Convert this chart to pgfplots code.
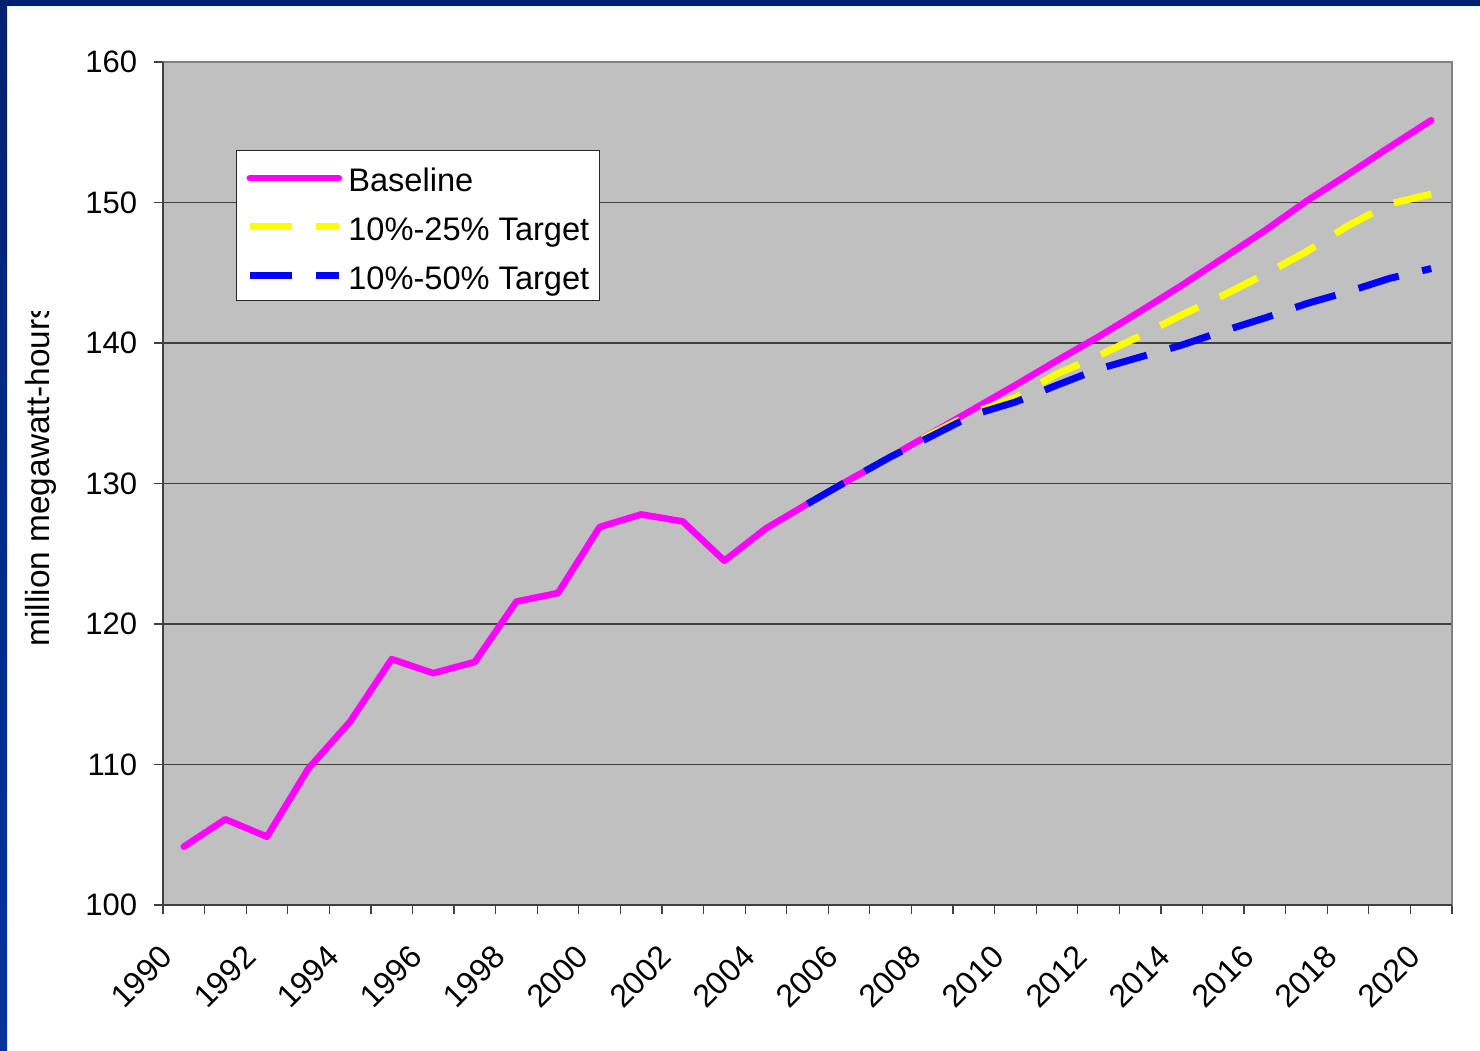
\documentclass[border=0pt]{standalone}
\usepackage{fontspec}
\setmainfont{Liberation Sans}
\usepackage{pgfplots}
\pgfplotsset{compat=1.18}
\definecolor{plotgray}{RGB}{192,192,192}
\definecolor{framegray}{RGB}{128,128,128}
\definecolor{axisdark}{RGB}{64,64,64}
\definecolor{navytop}{RGB}{0,34,110}
\definecolor{navybot}{RGB}{0,52,160}
\definecolor{mag}{RGB}{255,0,255}
\definecolor{yel}{RGB}{255,255,0}
\definecolor{blu}{RGB}{0,0,255}

\pgfplotstableread{
year val
1990 104.15
1991 106.1
1992 104.86
1993 109.73
1994 113.05
1995 117.5
1996 116.5
1997 117.3
1998 121.6
1999 122.2
2000 126.9
2001 127.8
2002 127.3
2003 124.5
2004 126.8
2005 128.55
2006 130.25
2007 131.9
2008 133.6
2009 135.3
2010 137.0
2011 138.75
2012 140.45
2013 142.25
2014 144.1
2015 146.05
2016 148.0
2017 150.1
2018 152.0
2019 153.95
2020 155.85
}\baseline

\pgfplotstableread{
year val
2005 128.55
2006 130.25
2007 131.9
2008 133.55
2009 135.05
2010 136.1
2011 137.8
2012 139.1
2013 140.5
2014 142.0
2015 143.4
2016 144.9
2017 146.5
2018 148.35
2019 149.9
2020 150.6
}\targetA

\pgfplotstableread{
year val
2005 128.55
2006 130.25
2007 131.9
2008 133.4
2009 134.9
2010 135.8
2011 137.0
2012 138.15
2013 139.0
2014 139.85
2015 140.85
2016 141.78
2017 142.8
2018 143.65
2019 144.6
2020 145.3
}\targetB

\begin{document}
\begin{tikzpicture}
\fill[white] (0,0) rectangle (740pt,525.5pt);
\shade[top color=navytop, bottom color=navybot] (0,0) rectangle (3.5pt,525.5pt);
\fill[navytop] (0,522.5pt) rectangle (740pt,525.5pt);
\begin{axis}[
  at={(81.5pt,73pt)}, anchor=south west,
  width=644.5pt, height=421.5pt, scale only axis,
  xmin=1989.5, xmax=2020.5, ymin=100, ymax=160,
  ytick={100,110,...,160},
  xtick={1989.5,1990.5,...,2020.5},
  xticklabels={},
  extra x ticks={1990,1992,...,2020},
  extra x tick style={major tick length=0pt, grid=none},
  tick pos=left,
  tick align=outside,
  major tick length=4.75pt,
  tick style={draw=axisdark, line width=0.6pt},
  ymajorgrids, grid style={draw=axisdark, line width=0.8pt},
  axis background/.style={fill=plotgray},
  axis line style={draw=framegray, line width=1.2pt},
  clip mode=individual,
  /pgf/number format/assume math mode=true,
  /pgf/number format/1000 sep={},
  yticklabel style={font=\fontsize{15.5}{18}\selectfont, anchor=east, inner sep=0pt, xshift=-8pt},
  xticklabel style={font=\fontsize{16}{18}\selectfont, xshift=-12.5pt, yshift=-19pt, rotate=45, anchor=north east, inner sep=0pt},
  legend style={at={(axis description cs:0.0564,0.8956)}, anchor=north west,
    draw=black!85, line width=0.6pt, fill=white,
    inner xsep=5pt, inner ysep=2.5pt,
    font=\fontsize{16.3}{19}\selectfont,
    row sep=2.95pt,
    nodes={inner sep=0pt, text height=18pt, text depth=3.4pt},
    /tikz/every odd column/.append style={column sep=3pt}},
  legend cell align=left,
  legend image code/.code={\draw[#1] (0pt,-0.5pt) -- (44.5pt,-0.5pt);},
]
\addplot[mag, line width=3.3pt, line join=round, line cap=round] table[x=year,y=val]{\baseline};
\addlegendentry{Baseline}
\addplot[yel, line width=3.5pt, line join=round, line cap=butt, dash pattern=on 21pt off 12pt] table[x=year,y=val]{\targetA};
\addlegendentry{10\%-25\% Target}
\addplot[blu, line width=3.5pt, line join=round, line cap=butt, dash pattern=on 21pt off 12pt] table[x=year,y=val]{\targetB};
\addlegendentry{10\%-50\% Target}
\draw[axisdark, line width=1.2pt] (rel axis cs:0,1) -- (rel axis cs:0,0) -- (rel axis cs:1,0);
\end{axis}
\begin{scope}
\clip (0,0) rectangle (80pt,369.5pt);
\node[rotate=90, anchor=base west, inner sep=0pt, font=\fontsize{16.7}{20}\selectfont] at (24.65pt,202.15pt) {million megawatt-hours};
\end{scope}
\end{tikzpicture}
\end{document}
